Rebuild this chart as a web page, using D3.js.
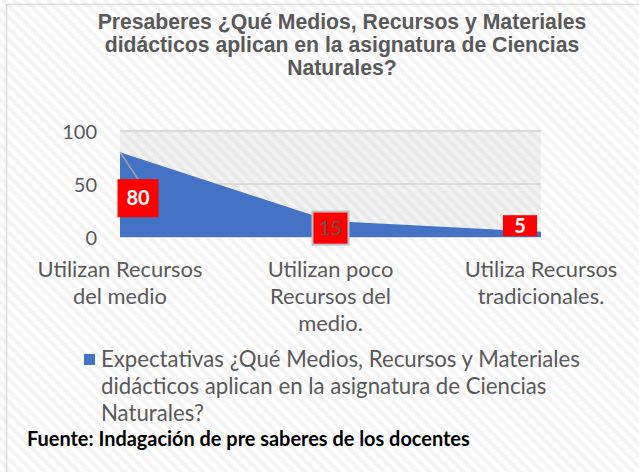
<!DOCTYPE html>
<html>
<head>
<meta charset="utf-8">
<script src="https://cdn.jsdelivr.net/npm/d3@7"></script>
<style>
  body { margin: 0; background: #fff; }
  text { font-family: Lato, "Open Sans", sans-serif; }
</style>
</head>
<body>
<div id="chart"></div>
<script>
// data
var categories = [
    ["Utilizan Recursos", "del medio"],
    ["Utilizan poco", "Recursos del", "medio."],
    ["Utiliza Recursos", "tradicionales."]
];
var values = [80, 15, 5];
var yTicks = [0, 50, 100];
var titleLines = [
    "Presaberes ¿Qué Medios, Recursos y Materiales",
    "didácticos aplican en la asignatura de Ciencias",
    "Naturales?"
];
var legendLines = [
    "Expectativas ¿Qué Medios, Recursos y Materiales",
    "didácticos aplican en la asignatura de Ciencias",
    "Naturales?"
];
var sourceText = "Fuente: Indagación de pre saberes de los docentes";

var W = 639, H = 472;
var plot = { left: 120, right: 541, top: 131, bottom: 237 };
var TITLE_FONT = "'Liberation Sans', Arial, sans-serif";

var svg = d3.select("#chart").append("svg")
    .attr("width", W)
    .attr("height", H);

// pick a font size so a sample string gets the width seen in the original
function fitSize(str, family, weight, targetWidth) {
    var t = svg.append("text")
        .style("font-family", family)
        .style("font-weight", weight)
        .style("font-size", "20px")
        .text(str);
    var w = t.node().getComputedTextLength();
    t.remove();
    return 20 * targetWidth / w;
}
var titleSize = fitSize(titleLines[0], TITLE_FONT, "bold", 489);
var catSize = fitSize(categories[0][0], "Lato", "normal", 165);
var legendSize = fitSize(legendLines[0], "Lato", "normal", 479);
var sourceSize = fitSize(sourceText, "Lato", "bold", 443);

// striped background patterns
var defs = svg.append("defs");
function stripes(id, bg, fg) {
    var p = defs.append("pattern")
        .attr("id", id)
        .attr("patternUnits", "userSpaceOnUse")
        .attr("width", 8)
        .attr("height", 8)
        .attr("patternTransform", "rotate(-45)");
    p.append("rect").attr("width", 8).attr("height", 8).attr("fill", bg);
    p.append("rect").attr("width", 4).attr("height", 8).attr("fill", fg);
}
stripes("bgStripes", "#ffffff", "#f3f3f3");
stripes("plotStripes", "#f2f2f2", "#e8e8e8");

svg.append("rect")
    .attr("x", 0).attr("y", 0)
    .attr("width", W).attr("height", H)
    .attr("fill", "url(#bgStripes)");

// chart area border
svg.append("rect")
    .attr("x", 6.5).attr("y", 4.5)
    .attr("width", W).attr("height", H)
    .attr("fill", "none")
    .attr("stroke", "#d9d9d9")
    .attr("stroke-width", 1.5);

var x = d3.scalePoint()
    .domain(d3.range(categories.length))
    .range([plot.left, plot.right]);

var y = d3.scaleLinear()
    .domain([0, 100])
    .range([plot.bottom, plot.top]);

// plot area fill
svg.append("rect")
    .attr("x", plot.left).attr("y", plot.top)
    .attr("width", plot.right - plot.left)
    .attr("height", plot.bottom - plot.top)
    .attr("fill", "url(#plotStripes)");

// gridlines
svg.append("g")
    .selectAll("line")
    .data(yTicks)
    .enter()
    .append("line")
    .attr("x1", plot.left)
    .attr("x2", plot.right)
    .attr("y1", function (d) { return y(d); })
    .attr("y2", function (d) { return y(d); })
    .attr("stroke", "#d9d9d9")
    .attr("stroke-width", 2);

// the area
var area = d3.area()
    .x(function (d, i) { return x(i); })
    .y0(y(0))
    .y1(function (d) { return y(d); });

svg.append("path")
    .datum(values)
    .attr("d", area)
    .attr("fill", "#4472c4");

// y axis
var yAxis = svg.append("g")
    .attr("transform", "translate(" + (plot.left - 23) + ",0)")
    .call(d3.axisLeft(y).tickValues(yTicks).tickSize(0).tickPadding(0));
yAxis.select(".domain").remove();
yAxis.selectAll("text")
    .attr("dy", "0.36em")
    .style("font-family", "Lato, sans-serif")
    .style("font-size", "20px")
    .attr("fill", "#595959");

// category labels
var xAxis = svg.append("g")
    .selectAll("text")
    .data(categories)
    .enter()
    .append("text")
    .attr("text-anchor", "middle")
    .attr("fill", "#595959")
    .style("font-size", catSize + "px");
xAxis.each(function (lines, i) {
    d3.select(this).selectAll("tspan")
        .data(lines)
        .enter()
        .append("tspan")
        .attr("x", x(i))
        .attr("y", function (d, j) { return 277 + j * 27; })
        .text(function (d) { return d; });
});

// data labels (boxes were moved by hand in the original)
var labelStyle = [
    { dx: 18, dy: 46, w: 41, h: 38, bold: true, color: "#ffffff", border: null, leader: true },
    { dx: 0, dy: 7, w: 36, h: 33, bold: false, color: "#595959", border: "#bfbfbf", leader: false },
    { dx: -21, dy: -6, w: 34, h: 21, bold: true, color: "#ffffff", border: null, leader: false }
];

var labels = svg.append("g")
    .selectAll("g")
    .data(values)
    .enter()
    .append("g");

labels.each(function (v, i) {
    var s = labelStyle[i];
    var cx = x(i) + s.dx, cy = y(v) + s.dy;
    var g = d3.select(this);
    if (s.leader) {
        g.append("line")
            .attr("x1", x(i)).attr("y1", y(v))
            .attr("x2", cx).attr("y2", cy - s.h / 2)
            .attr("stroke", "#a6a6a6")
            .attr("stroke-width", 1.5);
    }
    g.append("rect")
        .attr("x", cx - s.w / 2).attr("y", cy - s.h / 2)
        .attr("width", s.w).attr("height", s.h)
        .attr("fill", "#ff0000")
        .attr("stroke", s.border || "none")
        .attr("stroke-width", 2);
    g.append("text")
        .attr("x", cx).attr("y", cy)
        .attr("dy", "0.36em")
        .attr("text-anchor", "middle")
        .attr("fill", s.color)
        .style("font-size", "20px")
        .style("font-weight", s.bold ? "bold" : "normal")
        .text(v);
});

// title
svg.append("text")
    .attr("text-anchor", "middle")
    .attr("fill", "#595959")
    .style("font-family", TITLE_FONT)
    .style("font-weight", "bold")
    .style("font-size", titleSize + "px")
    .selectAll("tspan")
    .data(titleLines)
    .enter()
    .append("tspan")
    .attr("x", 342)
    .attr("y", function (d, i) { return 29 + i * 23; })
    .text(function (d) { return d; });

// legend
svg.append("rect")
    .attr("x", 84).attr("y", 354)
    .attr("width", 11).attr("height", 11)
    .attr("fill", "#4472c4");

svg.append("text")
    .attr("fill", "#595959")
    .style("font-size", legendSize + "px")
    .selectAll("tspan")
    .data(legendLines)
    .enter()
    .append("tspan")
    .attr("x", 101)
    .attr("y", function (d, i) { return 367 + i * 27; })
    .text(function (d) { return d; });

// source note
svg.append("text")
    .attr("x", 27)
    .attr("y", 446)
    .attr("fill", "#000000")
    .style("font-size", sourceSize + "px")
    .style("font-weight", "bold")
    .text(sourceText);
</script>
</body>
</html>
